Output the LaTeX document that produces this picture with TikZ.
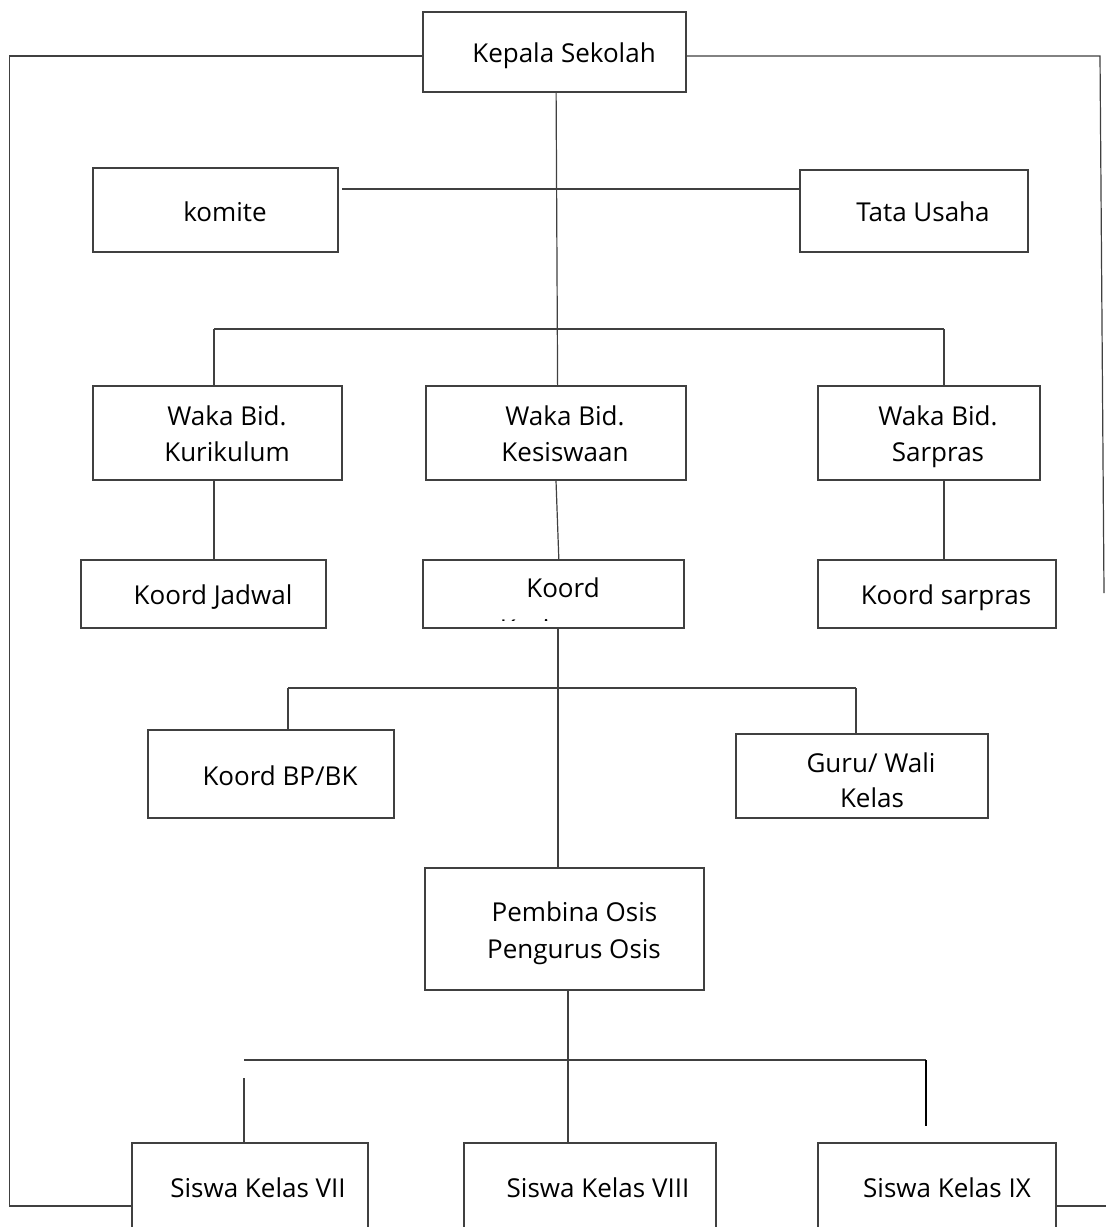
\documentclass[tikz,border=0pt]{standalone}
\usepackage{fontspec}
\setmainfont{Open Sans}
\usetikzlibrary{fit}
\begin{document}
\begin{tikzpicture}[x=0.75pt,y=-0.75pt,
  box/.style={draw=black!75, line width=0.9pt, inner sep=0pt},
  con/.style={draw=black!75, line width=0.9pt},
  heavy/.style={draw=black, line width=1.4pt},
  txt/.style={font=\fontsize{19.5pt}{26.5pt}\selectfont, inner sep=0pt, anchor=base}]
\useasboundingbox (0,0) rectangle (1106,1227);
\fill[white] (0,0) rectangle (1106,1227);
\clip (0,0) rectangle (1106,1227);

% boxes
\node[box, fit={(423,12) (686,92)}] (kepala) {};
\node[box, fit={(93,168) (338,252)}] (komite) {};
\node[box, fit={(800,170) (1028,252)}] (tu) {};
\node[box, fit={(93,386) (342,480)}] (kur) {};
\node[box, fit={(426,386) (686,480)}] (kes) {};
\node[box, fit={(818,386) (1040,480)}] (sar) {};
\node[box, fit={(81,560) (326,628)}] (jad) {};
\node[box, fit={(423,560) (684,628)}] (kk) {};
\node[box, fit={(818,560) (1056,628)}] (ks) {};
\node[box, fit={(148,730) (394,818)}] (bp) {};
\node[box, fit={(736,734) (988,818)}] (guru) {};
\node[box, fit={(425,868) (704,990)}] (pem) {};
\node[box, fit={(132,1143) (368,1245)}] (s7) {};
\node[box, fit={(464,1143) (716,1245)}] (s8) {};
\node[box, fit={(818,1143) (1056,1245)}] (s9) {};

% texts
\node[txt] (t-kepala) at (564,63) {Kepala Sekolah};
\node[txt] (t-komite) at (225,221) {komite};
\node[txt] (t-tu) at (923,221) {Tata Usaha};
\node[txt] (t-kur1) at (227,425.5) {Waka Bid.};
\node[txt] (t-kur2) at (227,461) {Kurikulum};
\node[txt] (t-kes1) at (565,425.5) {Waka Bid.};
\node[txt] (t-kes2) at (565,461) {Kesiswaan};
\node[txt] (t-sar1) at (938,425.5) {Waka Bid.};
\node[txt] (t-sar2) at (938,461) {Sarpras};
\node[txt] (t-jad) at (213,604) {Koord Jadwal};
\node[txt] (t-kk1) at (563,597) {Koord};
\begin{scope}
  \clip (424,561) rectangle (683,620);
  \node[txt] (t-kk2) at (563.5,638.5) {Kesiswaan};
\end{scope}
\node[txt] (t-ks) at (946,604) {Koord sarpras};
\node[txt] (t-bp) at (280,785.5) {Koord BP/BK};
\node[txt] (t-guru1) at (871,772) {Guru/ Wali};
\node[txt] (t-guru2) at (872,807.5) {Kelas};
\node[txt] (t-pem1) at (574.5,921) {Pembina Osis};
\node[txt] (t-pem2) at (574,958) {Pengurus Osis};
\node[txt] (t-s7) at (258,1197) {Siswa Kelas VII};
\node[txt] (t-s8) at (598,1197) {Siswa Kelas VIII};
\node[txt] (t-s9) at (947,1197) {Siswa Kelas IX};

% junction coordinates
\coordinate (lc1) at (9.5,56);
\coordinate (lc2) at (9.5,1206);
\coordinate (rc1) at (1100,56);
\coordinate (rend) at (1104,593);
\coordinate (kt) at (342,189);
\coordinate (b1L) at (214,329);
\coordinate (b1R) at (944,329);
\coordinate (b2L) at (288,688);
\coordinate (b2R) at (856,688);
\coordinate (b2M) at (558,688);
\coordinate (b3L) at (244,1060);
\coordinate (b3R) at (926,1060);
\coordinate (b3M) at (568,1060);
\coordinate (s7top) at (244,1078);
\coordinate (b3Rend) at (926,1126);
\coordinate (rb) at (1106,1206);

% connectors
\draw[con] ([yshift=-3pt]kepala.west) -- (lc1) -- (lc2) -- (lc2 -| s7.west);
\draw[con] ([yshift=-3pt]kepala.east) -- (rc1) -- (rend);
\draw[con] ([xshift=1.2pt]kepala.south) -- ([xshift=1.2pt]kes.north);
\draw[con] (kt) -- (kt -| tu.west);
\draw[con] (b1L) -- (b1R);
\draw[con] (b1L) -- (b1L |- kur.north);
\draw[con] (b1R) -- (b1R |- sar.north);
\draw[con] (b1L |- kur.south) -- (b1L |- jad.north);
\draw[con] (kes.south) -- ([xshift=4pt]kk.north);
\draw[con] (b1R |- sar.south) -- (b1R |- ks.north);
\draw[con] (b2M |- kk.south) -- (b2M |- pem.north);
\draw[con] (b2L) -- (b2R);
\draw[con] (b2L) -- (b2L |- bp.north);
\draw[con] (b2R) -- (b2R |- guru.north);
\draw[con] (b3M |- pem.south) -- (b3M |- s8.north);
\draw[con] (b3L) -- (b3R);
\draw[con] (s7top) -- (s7top |- s7.north);
\draw[heavy] (b3R) -- (b3Rend);
\draw[con] (s9.east |- rb) -- (rb);
\end{tikzpicture}
\end{document}
